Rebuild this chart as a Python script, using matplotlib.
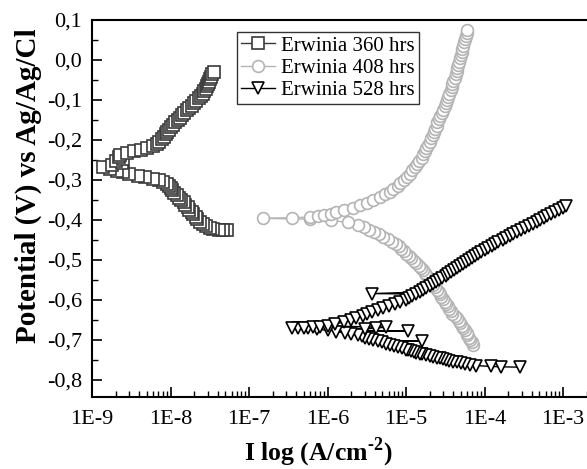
import matplotlib
matplotlib.use('Agg')
import matplotlib.pyplot as plt
import matplotlib.ticker as ticker
import numpy as np

# ── data (sweep order) ───────────────────────────────────────────
# Erwinia 360 hrs
v_360 = [-0.426, -0.425, -0.424, -0.422, -0.419, -0.415, -0.410, -0.404, -0.398,
         -0.392, -0.386, -0.380, -0.374, -0.368, -0.362, -0.356, -0.350, -0.344,
         -0.338, -0.332, -0.326, -0.320, -0.314, -0.309, -0.305, -0.301, -0.297,
         -0.293, -0.289, -0.285, -0.281, -0.277, -0.272, -0.267,
         -0.262, -0.257, -0.252, -0.247, -0.242, -0.237, -0.232, -0.228, -0.224,
         -0.220, -0.215, -0.210, -0.204, -0.198, -0.192, -0.186, -0.180, -0.174,
         -0.168, -0.162, -0.156, -0.150, -0.144, -0.138, -0.132, -0.126, -0.120,
         -0.114, -0.108, -0.102, -0.096, -0.090, -0.084, -0.078, -0.072, -0.066,
         -0.060, -0.054, -0.048, -0.042, -0.036, -0.030]
i_360 = [5.2e-8, 4.7e-8, 4.1e-8, 3.5e-8, 3.2e-8, 2.8e-8, 2.6e-8, 2.4e-8, 2.2e-8,
         2.1e-8, 1.95e-8, 1.86e-8, 1.74e-8, 1.66e-8, 1.55e-8, 1.48e-8, 1.38e-8, 1.29e-8,
         1.2e-8, 1.12e-8, 1.05e-8, 1.0e-8, 9.5e-9, 8.9e-9, 8.1e-9, 7.1e-9, 5.9e-9,
         4.8e-9, 3.8e-9, 3.0e-9, 2.5e-9, 2.1e-9, 1.7e-9, 1.4e-9,
         1.8e-9, 2.4e-9, 2.0e-9, 2.5e-9, 2.2e-9, 2.3e-9, 2.8e-9, 3.4e-9, 4.2e-9,
         5.0e-9, 6.0e-9, 6.8e-9, 7.2e-9, 7.8e-9, 8.3e-9, 8.7e-9, 9.1e-9, 9.5e-9,
         1.0e-8, 1.07e-8, 1.15e-8, 1.23e-8, 1.32e-8, 1.41e-8, 1.5e-8, 1.62e-8, 1.74e-8,
         1.86e-8, 2.0e-8, 2.1e-8, 2.3e-8, 2.45e-8, 2.6e-8, 2.7e-8, 2.8e-8, 2.95e-8,
         3.0e-8, 3.1e-8, 3.2e-8, 3.3e-8, 3.4e-8, 3.55e-8]

# Erwinia 408 hrs
v_408 = [-0.712, -0.706, -0.700, -0.694, -0.688, -0.682, -0.676, -0.670, -0.664,
         -0.658, -0.652, -0.646, -0.640, -0.634, -0.628, -0.622, -0.616, -0.610,
         -0.604, -0.598, -0.592, -0.586, -0.580, -0.574, -0.568, -0.562, -0.556,
         -0.550, -0.544, -0.538, -0.532, -0.526, -0.520, -0.514, -0.508, -0.502,
         -0.496, -0.490, -0.484, -0.478, -0.472, -0.466, -0.460, -0.454, -0.448,
         -0.442, -0.436, -0.430, -0.424, -0.418, -0.412, -0.406, -0.401, -0.398,
         -0.396,
         -0.394, -0.393, -0.391, -0.388, -0.384, -0.379, -0.374, -0.369, -0.363,
         -0.357, -0.350, -0.343, -0.336, -0.329, -0.322, -0.315, -0.308, -0.300,
         -0.292, -0.284, -0.276, -0.268, -0.260, -0.252, -0.244, -0.236, -0.228,
         -0.220, -0.212, -0.204, -0.196, -0.188, -0.180, -0.172, -0.164, -0.156,
         -0.148, -0.140, -0.132, -0.124, -0.116, -0.108, -0.100, -0.092, -0.084,
         -0.076, -0.068, -0.060, -0.052, -0.044, -0.036, -0.028, -0.020, -0.012,
         -0.004, 0.004, 0.012, 0.020, 0.028, 0.036, 0.044, 0.052, 0.060, 0.068, 0.074]
i_408 = [7.2e-5, 6.9e-5, 6.6e-5, 6.3e-5, 6.0e-5, 5.9e-5, 5.6e-5, 5.4e-5, 5.1e-5,
         4.9e-5, 4.7e-5, 4.4e-5, 4.2e-5, 3.9e-5, 3.7e-5, 3.55e-5, 3.4e-5, 3.2e-5,
         3.1e-5, 2.95e-5, 2.8e-5, 2.7e-5, 2.6e-5, 2.45e-5, 2.35e-5, 2.2e-5, 2.1e-5,
         2.0e-5, 1.95e-5, 1.8e-5, 1.74e-5, 1.66e-5, 1.55e-5, 1.45e-5, 1.35e-5, 1.26e-5,
         1.17e-5, 1.1e-5, 1.0e-5, 9.3e-6, 8.7e-6, 8.1e-6, 7.4e-6, 6.6e-6, 5.9e-6,
         5.1e-6, 4.5e-6, 3.9e-6, 3.4e-6, 2.9e-6, 2.45e-6, 1.8e-6, 1.1e-6, 6.0e-7,
         1.5e-7,
         3.5e-7, 6.0e-7, 7.6e-7, 9.1e-7, 1.1e-6, 1.3e-6, 1.6e-6, 2.1e-6, 2.6e-6,
         3.2e-6, 3.8e-6, 4.6e-6, 5.4e-6, 6.2e-6, 6.9e-6, 7.8e-6, 8.5e-6, 9.3e-6,
         1.02e-5, 1.12e-5, 1.2e-5, 1.29e-5, 1.38e-5, 1.48e-5, 1.58e-5, 1.66e-5, 1.74e-5,
         1.82e-5, 1.9e-5, 2.0e-5, 2.1e-5, 2.2e-5, 2.25e-5, 2.35e-5, 2.45e-5, 2.5e-5,
         2.6e-5, 2.75e-5, 2.9e-5, 2.95e-5, 3.1e-5, 3.2e-5, 3.3e-5, 3.45e-5, 3.55e-5,
         3.7e-5, 3.8e-5, 3.9e-5, 4.0e-5, 4.2e-5, 4.3e-5, 4.4e-5, 4.5e-5, 4.6e-5,
         4.8e-5, 4.9e-5, 5.0e-5, 5.1e-5, 5.2e-5, 5.4e-5, 5.5e-5, 5.6e-5, 5.75e-5, 5.9e-5, 6.0e-5]

# Erwinia 528 hrs
v_528 = [-0.768, -0.767, -0.766, -0.764, -0.762, -0.760, -0.758, -0.756, -0.754,
         -0.752, -0.750, -0.748, -0.746, -0.744, -0.742, -0.740, -0.738, -0.736,
         -0.734, -0.732, -0.730, -0.728, -0.726, -0.724, -0.721, -0.718, -0.715,
         -0.712, -0.709, -0.706, -0.703, -0.703, -0.700, -0.697, -0.694, -0.691,
         -0.688, -0.685, -0.682, -0.679, -0.677, -0.676, -0.673, -0.671, -0.670,
         -0.670,
         -0.669, -0.668, -0.667, -0.672, -0.670, -0.668,
         -0.665, -0.660, -0.655, -0.650, -0.645, -0.640, -0.635, -0.630, -0.625,
         -0.620, -0.615, -0.610, -0.605, -0.600, -0.595, -0.590, -0.585, -0.584,
         -0.580, -0.575, -0.570, -0.565, -0.560, -0.555, -0.550, -0.545, -0.540,
         -0.535, -0.530, -0.525, -0.520, -0.515, -0.510, -0.505, -0.500, -0.495,
         -0.490, -0.485, -0.480, -0.475, -0.470, -0.465, -0.460, -0.455, -0.450,
         -0.445, -0.440, -0.435, -0.430, -0.425, -0.420, -0.415, -0.410, -0.405,
         -0.400, -0.395, -0.390, -0.385, -0.380, -0.375, -0.370, -0.365]
i_528 = [2.8e-4, 1.6e-4, 1.2e-4, 7.9e-5, 6.6e-5, 5.6e-5, 5.0e-5, 4.5e-5, 4.0e-5,
         3.5e-5, 3.2e-5, 3.0e-5, 2.75e-5, 2.5e-5, 2.2e-5, 2.0e-5, 1.8e-5, 1.6e-5,
         1.5e-5, 1.35e-5, 1.26e-5, 1.15e-5, 1.07e-5, 1.0e-5, 8.9e-6, 7.9e-6, 7.1e-6,
         6.3e-6, 5.5e-6, 4.9e-6, 4.4e-6, 1.6e-5, 3.8e-6, 3.4e-6, 3.0e-6, 2.75e-6,
         2.45e-6, 2.0e-6, 1.66e-6, 1.3e-6, 1.07e-5, 1.0e-6, 7.4e-7, 5.6e-7, 4.2e-7,
         3.5e-7,
         5.0e-7, 6.5e-7, 8.0e-7, 3.0e-6, 4.2e-6, 5.5e-6,
         1.0e-6, 1.26e-6, 1.6e-6, 2.0e-6, 2.3e-6, 2.8e-6, 3.2e-6, 3.7e-6, 4.4e-6,
         5.1e-6, 6.0e-6, 7.2e-6, 8.5e-6, 1.0e-5, 1.1e-5, 1.2e-5, 1.35e-5, 3.7e-6,
         1.5e-5, 1.66e-5, 1.8e-5, 2.0e-5, 2.2e-5, 2.4e-5, 2.6e-5, 2.9e-5, 3.2e-5,
         3.4e-5, 3.7e-5, 4.1e-5, 4.5e-5, 4.9e-5, 5.3e-5, 5.8e-5, 6.3e-5, 6.9e-5,
         7.6e-5, 8.3e-5, 9.1e-5, 1.0e-4, 1.1e-4, 1.23e-4, 1.38e-4, 1.5e-4, 1.7e-4,
         1.9e-4, 2.1e-4, 2.3e-4, 2.6e-4, 2.95e-4, 3.3e-4, 3.7e-4, 4.1e-4, 4.6e-4,
         5.1e-4, 5.75e-4, 6.3e-4, 7.1e-4, 7.9e-4, 8.9e-4, 1.0e-3, 1.1e-3]

labels = ['Erwinia 360 hrs', 'Erwinia 408 hrs', 'Erwinia 528 hrs']
x_ticks = [1e-9, 1e-8, 1e-7, 1e-6, 1e-5, 1e-4, 1e-3]
y_ticks = [0.1, 0.0, -0.1, -0.2, -0.3, -0.4, -0.5, -0.6, -0.7, -0.8]

# ── style ─────────────────────────────────────────────────
plt.rcParams.update({
    'font.family': ['Liberation Serif', 'DejaVu Serif'],
    'mathtext.fontset': 'custom',
    'mathtext.rm': 'Liberation Serif:bold',
    'mathtext.bf': 'Liberation Serif:bold',
    'axes.linewidth': 1.5,
})

W, H = 587, 469
fig = plt.figure(figsize=(W / 100, H / 100), dpi=100)
ax = fig.add_axes([92 / W, (H - 397) / H, 495 / W, 377 / H])

ax.plot(i_360, v_360, color='#3a3a3a', lw=1.0, marker='s', ms=8.5,
        mfc='white', mec='#3a3a3a', mew=1.2, label=labels[0])
ax.plot(i_408, v_408, color='#b4b4b4', lw=1.0, marker='o', ms=8.5,
        mfc='white', mec='#b4b4b4', mew=1.2, label=labels[1])
ax.plot(i_528, v_528, color='black', lw=1.0, marker='v', ms=8,
        mfc='white', mec='black', mew=1.2, label=labels[2])

ax.set_xscale('log')
ax.set_xlim(1e-9, 10 ** (-9 + 495 / 78.5))
ax.set_ylim(-0.8425, 0.1)

ax.set_xticks(x_ticks)
ax.xaxis.set_major_formatter(ticker.FuncFormatter(lambda x, p: '1E%d' % round(np.log10(x))))
ax.xaxis.set_minor_locator(ticker.LogLocator(base=10, subs=np.arange(2, 10), numticks=20))
ax.xaxis.set_minor_formatter(ticker.NullFormatter())

ax.set_yticks(y_ticks)
ax.yaxis.set_major_formatter(ticker.FuncFormatter(
    lambda v, p: ('%.1f' % (0.0 if abs(v) < 1e-9 else v)).replace('.', ',')))
ax.yaxis.set_minor_locator(ticker.MultipleLocator(0.05))

ax.tick_params(which='both', direction='in', top=False, right=False, labelsize=16)
ax.tick_params(which='major', length=7, width=1.2)
ax.tick_params(which='minor', length=4, width=1.0)
ax.tick_params(axis='x', which='major', pad=9)
ax.tick_params(axis='y', which='major', pad=7)
ax.spines['right'].set_visible(False)

ax.set_xlabel(r'I log (A/cm$^{\text{-2}}$)', fontsize=18.5, fontweight='bold')
ax.set_ylabel('Potential (V) vs Ag/Ag/Cl', fontsize=21, fontweight='bold')
ax.xaxis.set_label_coords((318 - 92) / 495, -(452 - 397) / 377)
ax.yaxis.set_label_coords(-(92 - 28) / 495, (397 - 186) / 377)
ax.xaxis.label.set_va('center')
ax.yaxis.label.set_va('center')

leg = ax.legend(loc='upper left', bbox_to_anchor=((237 - 92) / 495, 1 - 12 / 377), fontsize=15,
                frameon=True, fancybox=False, handlelength=1.6, handletextpad=0.3,
                borderpad=0.2, labelspacing=0.12, borderaxespad=0)
leg.get_frame().set_edgecolor('black')
leg.get_frame().set_linewidth(1.0)

fig.savefig('out.png', dpi=100, facecolor='white')
